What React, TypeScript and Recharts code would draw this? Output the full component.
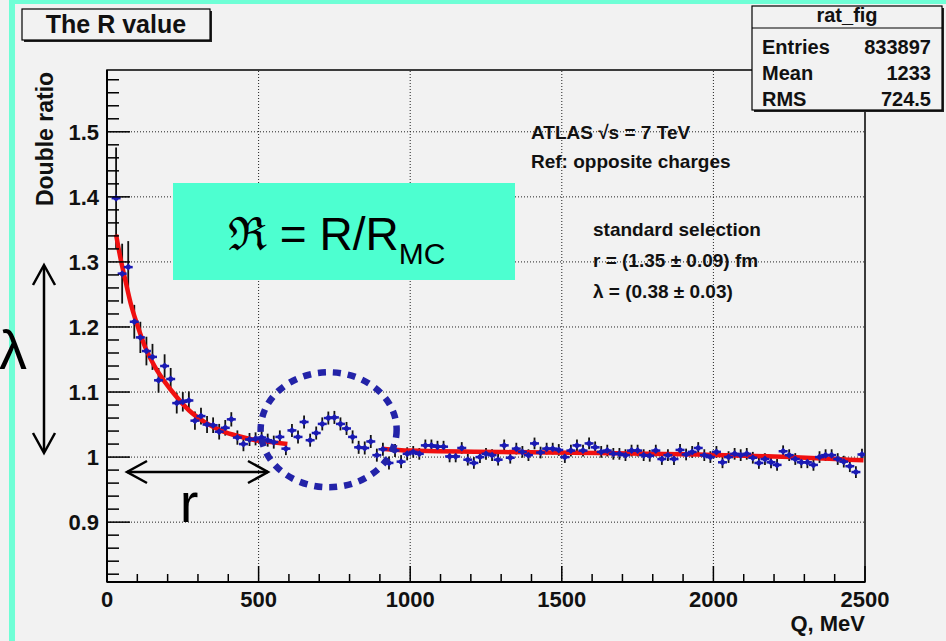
import React from "react";
import {
  ComposedChart,
  Scatter,
  Line,
  XAxis,
  YAxis,
  ReferenceLine,
  ReferenceArea,
  ReferenceDot,
  ErrorBar,
} from "recharts";

const FONT = "'Liberation Sans', Arial, Helvetica, sans-serif";

// bin centres, MeV
const qBins = [
  30, 50, 70, 90, 110, 130, 150, 170, 190, 210, 230, 250, 270, 290, 310, 330, 350, 370, 390, 410,
  430, 450, 470, 490, 510, 530, 550, 570, 590, 610, 630, 650, 670, 690, 710, 730, 750, 770, 790, 810,
  830, 850, 870, 890, 910, 930, 950, 970, 990, 1010, 1030, 1050, 1070, 1090, 1110, 1130, 1150, 1170, 1190, 1210,
  1230, 1250, 1270, 1290, 1310, 1330, 1350, 1370, 1390, 1410, 1430, 1450, 1470, 1490, 1510, 1530, 1550, 1570, 1590, 1610,
  1630, 1650, 1670, 1690, 1710, 1730, 1750, 1770, 1790, 1810, 1830, 1850, 1870, 1890, 1910, 1930, 1950, 1970, 1990, 2010,
  2030, 2050, 2070, 2090, 2110, 2130, 2150, 2170, 2190, 2210, 2230, 2250, 2270, 2290, 2310, 2330, 2350, 2370, 2390, 2410,
  2430, 2450, 2470, 2490,
];

// double ratio per bin
const ratio = [
  1.398, 1.282, 1.292, 1.208, 1.184, 1.163, 1.154, 1.118, 1.14, 1.12, 1.083, 1.085, 1.087, 1.056, 1.063, 1.05, 1.049, 1.039, 1.045, 1.058,
  1.03, 1.02, 1.027, 1.028, 1.03, 1.026, 1.023, 1.031, 1.013, 1.041, 1.031, 1.054, 1.026, 1.037, 1.051, 1.06, 1.061, 1.051, 1.044, 1.031,
  1.015, 1.014, 1.024, 1.003, 1.012, 0.991, 1.01, 0.993, 1.005, 1.008, 1.005, 1.018, 1.018, 1.016, 1.016, 1.001, 1.001, 1.014, 0.996, 0.991,
  1.0, 1.005, 1.003, 0.996, 1.018, 0.999, 1.013, 1.008, 1.003, 1.021, 1.007, 1.013, 1.013, 1.011, 1.0, 1.01, 1.018, 1.01, 1.021, 1.015,
  1.008, 1.01, 1.005, 1.005, 1.003, 1.01, 1.01, 1.003, 1.002, 1.01, 0.997, 1.003, 0.997, 1.011, 1.004, 1.008, 1.014, 1.003, 1.0, 1.008,
  0.992, 1.0, 1.005, 1.003, 1.005, 0.999, 0.991, 0.997, 0.992, 0.988, 1.009, 1.003, 0.997, 0.992, 0.992, 0.988, 1.0, 1.003, 1.003, 0.997,
  0.993, 0.986, 0.977, 1.004,
];

const ratioErr = [
  0.078, 0.046, 0.04, 0.026, 0.024, 0.022, 0.02, 0.019, 0.018, 0.017, 0.016, 0.015, 0.014, 0.014, 0.013, 0.013, 0.012, 0.012, 0.012, 0.011,
  0.011, 0.011, 0.01, 0.01, 0.01, 0.01, 0.01, 0.01, 0.01, 0.01, 0.01, 0.01, 0.01, 0.01, 0.01, 0.01, 0.01, 0.01, 0.01, 0.01,
  0.01, 0.01, 0.01, 0.01, 0.01, 0.01, 0.01, 0.01, 0.01, 0.009, 0.009, 0.009, 0.009, 0.009, 0.009, 0.009, 0.009, 0.009, 0.009, 0.009,
  0.009, 0.009, 0.009, 0.009, 0.009, 0.009, 0.009, 0.009, 0.009, 0.009, 0.009, 0.009, 0.009, 0.009, 0.009, 0.009, 0.009, 0.009, 0.009, 0.009,
  0.009, 0.009, 0.009, 0.009, 0.009, 0.009, 0.009, 0.009, 0.009, 0.009, 0.009, 0.009, 0.009, 0.009, 0.009, 0.009, 0.009, 0.009, 0.009, 0.009,
  0.009, 0.009, 0.009, 0.009, 0.009, 0.009, 0.009, 0.009, 0.009, 0.009, 0.009, 0.009, 0.009, 0.009, 0.009, 0.009, 0.009, 0.009, 0.009, 0.009,
  0.009, 0.009, 0.009, 0.009,
];

// red fit curves
const fitLowQ = [30, 43, 60, 80, 100, 125, 160, 190, 225, 270, 325, 380, 435, 490, 540, 595];
const fitLowV = [1.342, 1.309, 1.273, 1.233, 1.203, 1.17, 1.137, 1.116, 1.095, 1.072, 1.053, 1.04, 1.032, 1.026, 1.023, 1.02];
const fitHighQ = [905, 1000, 1450, 1950, 2200, 2495];
const fitHighV = [1.013, 1.01, 1.007, 1.004, 1.001, 0.995];

const xTicks = [
  0, 100, 200, 300, 400, 500, 600, 700, 800, 900, 1000, 1100, 1200, 1300, 1400, 1500, 1600, 1700, 1800, 1900,
  2000, 2100, 2200, 2300, 2400, 2500,
];
const yTicks = [
  0.82, 0.84, 0.86, 0.88, 0.9, 0.92, 0.94, 0.96, 0.98, 1.0, 1.02, 1.04, 1.06, 1.08, 1.1, 1.12, 1.14, 1.16, 1.18, 1.2,
  1.22, 1.24, 1.26, 1.28, 1.3, 1.32, 1.34, 1.36, 1.38, 1.4, 1.42, 1.44, 1.46, 1.48, 1.5, 1.52, 1.54, 1.56, 1.58,
];
const xGrid = [500, 1000, 1500, 2000];
const yGrid = [0.9, 1.0, 1.1, 1.2, 1.3, 1.4, 1.5];

const stats = [
  ["Entries", "833897"],
  ["Mean", "1233"],
  ["RMS", "724.5"],
];

const points = qBins.map((q, i) => ({ q, v: ratio[i], e: ratioErr[i] }));
const fitLow = fitLowQ.map((q, i) => ({ q, v: fitLowV[i] }));
const fitHigh = fitHighQ.map((q, i) => ({ q, v: fitHighV[i] }));

const BLUE = "#1a1ab4";
const RED = "#f01010";

function XTick(props: any) {
  const { x, y, payload } = props;
  const v = payload.value;
  const major = v % 500 === 0;
  return (
    <g>
      <line x1={x} x2={x} y1={y} y2={y - (major ? 16 : 8)} stroke="#000" strokeWidth={1.5} />
      {major && (
        <text x={x} y={y + 25} textAnchor="middle" fontSize={22} fontWeight="bold" fill="#111" fontFamily={FONT}>
          {v}
        </text>
      )}
    </g>
  );
}

function YTick(props: any) {
  const { x, y, payload } = props;
  const v = payload.value;
  const major = Math.abs(Math.round(v * 10) - v * 10) < 1e-6;
  return (
    <g>
      <line x1={x} x2={x + (major ? 23 : 12)} y1={y} y2={y} stroke="#000" strokeWidth={1.5} />
      {major && (
        <text x={x - 8} y={y} dy="0.36em" textAnchor="end" fontSize={22} fontWeight="bold" fill="#111" fontFamily={FONT}>
          {Math.abs(v - 1) < 1e-6 ? "1" : v.toFixed(1)}
        </text>
      )}
    </g>
  );
}

function Marker(props: any) {
  const { cx, cy } = props;
  return (
    <g>
      <line x1={cx - 4.5} x2={cx + 4.5} y1={cy} y2={cy} stroke={BLUE} strokeWidth={2.5} />
      <path d={`M${cx},${cy - 3.5}L${cx + 3.5},${cy}L${cx},${cy + 3.5}L${cx - 3.5},${cy}Z`} fill={BLUE} />
    </g>
  );
}

function Overlay() {
  const txt = { fontFamily: FONT, fontWeight: "bold" as const, fill: "#111" };
  return (
    <svg width={946} height={641} style={{ position: "absolute", left: 0, top: 0, pointerEvents: "none" }}>
      {/* page border strips */}
      <rect x={9} y={0} width={6} height={641} fill="#6fffd6" />
      <rect x={9} y={0} width={937} height={4} fill="#6fffd6" />

      {/* title box */}
      <rect x={24} y={11} width={188} height={31} fill="#222" />
      <rect x={22} y={9} width={188} height={31} fill="#f2f2f2" stroke="#000" strokeWidth={1.2} />
      <text x={116} y={33} textAnchor="middle" fontSize={25} {...txt}>
        The R value
      </text>

      {/* stats box */}
      <rect x={754} y={8} width={190} height={104} fill="#222" />
      <rect x={752} y={6} width={190} height={104} fill="#f2f2f2" stroke="#000" strokeWidth={1.2} />
      <line x1={752} x2={942} y1={28} y2={28} stroke="#000" strokeWidth={1.2} />
      <text x={847} y={22} textAnchor="middle" fontSize={20} {...txt}>
        rat_fig
      </text>
      {stats.map(([k, v], i) => (
        <g key={k}>
          <text x={762} y={54 + i * 26} fontSize={20} {...txt}>
            {k}
          </text>
          <text x={931} y={54 + i * 26} textAnchor="end" fontSize={20} {...txt}>
            {v}
          </text>
        </g>
      ))}

      {/* axis titles */}
      <text transform="translate(53,139) rotate(-90)" textAnchor="middle" fontSize={23} {...txt}>
        Double ratio
      </text>
      <text x={865} y={631} textAnchor="end" fontSize={22} {...txt}>
        Q, MeV
      </text>

      {/* R box */}
      <rect x={173} y={183} width={342} height={97} fill="#4dffd0" />
      <text x={228} y={250} fontSize={46} fontFamily={FONT} fill="#000">
        <tspan fontFamily="'DejaVu Serif', serif">ℜ</tspan>
        <tspan> = R/R</tspan>
        <tspan fontSize={30} dy={14}>
          MC
        </tspan>
      </text>

      {/* annotations */}
      <text x={531} y={139} fontSize={19} {...txt}>
        ATLAS √s = 7 TeV
      </text>
      <text x={531} y={168} fontSize={19} {...txt}>
        Ref: opposite charges
      </text>
      <text x={593} y={236} fontSize={19} {...txt}>
        standard selection
      </text>
      <text x={593} y={267} fontSize={19} {...txt}>
        r = (1.35 ± 0.09) fm
      </text>
      <text x={593} y={298} fontSize={19} {...txt}>
        λ = (0.38 ± 0.03)
      </text>

      {/* lambda and r arrows */}
      <g stroke="#000" strokeWidth={2.5} fill="none">
        <line x1={44} x2={44} y1={266} y2={452} />
        <polyline points="33,285 44,265 55,285" />
        <polyline points="33,433 44,453 55,433" />
        <line x1={127} x2={268} y1={472} y2={472} />
        <polyline points="147,461 127,472 147,483" />
        <polyline points="248,461 268,472 248,483" />
      </g>
      <text x={13} y={369} textAnchor="middle" fontSize={56} fontFamily={FONT} fill="#000">
        λ
      </text>
      <text x={189} y={522} textAnchor="middle" fontSize={56} fontFamily={FONT} fill="#000">
        r
      </text>
    </svg>
  );
}

export default function App() {
  return (
    <div
      style={{
        position: "absolute",
        left: 0,
        top: 0,
        width: 946,
        height: 641,
        background: "#f2f2f2",
        fontFamily: FONT,
        overflow: "hidden",
      }}
    >
      <ComposedChart width={946} height={641} margin={{ top: 70, right: 81, bottom: 0, left: 0 }}>
        <XAxis
          type="number"
          dataKey="q"
          domain={[0, 2500]}
          ticks={xTicks}
          interval={0}
          height={59}
          tickSize={0}
          tickMargin={0}
          tick={XTick}
          allowDataOverflow
          axisLine={{ stroke: "#000", strokeWidth: 2 }}
        />
        <YAxis
          type="number"
          dataKey="v"
          domain={[0.808, 1.595]}
          ticks={yTicks}
          interval={0}
          width={107}
          tickSize={0}
          tickMargin={0}
          tick={YTick}
          allowDataOverflow
          axisLine={{ stroke: "#000", strokeWidth: 2 }}
        />
        {xGrid.map((x) => (
          <ReferenceLine key={"gx" + x} x={x} stroke="#222" strokeWidth={1} strokeDasharray="1 2" />
        ))}
        {yGrid.map((y) => (
          <ReferenceLine key={"gy" + y} y={y} stroke="#222" strokeWidth={1} strokeDasharray="1 2" />
        ))}
        <ReferenceArea x1={0} x2={2500} y1={0.808} y2={1.595} fill="none" stroke="#000" strokeWidth={1.5} ifOverflow="visible" />
        <Scatter data={points} dataKey="v" fill={BLUE} shape={Marker} isAnimationActive={false}>
          <ErrorBar dataKey="e" direction="y" width={0} stroke="#111" strokeWidth={1.8} isAnimationActive={false} />
        </Scatter>
        <Line data={fitLow} dataKey="v" type="monotone" stroke={RED} strokeWidth={4.5} dot={false} activeDot={false} isAnimationActive={false} />
        <Line data={fitHigh} dataKey="v" type="monotone" stroke={RED} strokeWidth={4.5} dot={false} activeDot={false} isAnimationActive={false} />
        <ReferenceDot
          x={731}
          y={1.042}
          r={1}
          ifOverflow="visible"
          shape={(p: any) => (
            <ellipse cx={p.cx} cy={p.cy} rx={68} ry={57.5} fill="none" stroke="#2323a8" strokeWidth={6.5} strokeDasharray="8 7" />
          )}
        />
      </ComposedChart>
      <Overlay />
    </div>
  );
}
